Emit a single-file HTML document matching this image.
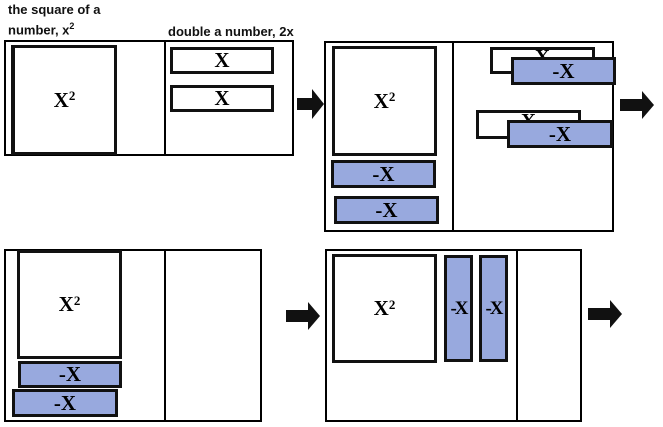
<!DOCTYPE html>
<html><head><style>
body{margin:0;background:#fff;width:663px;height:427px;overflow:hidden;position:relative;font-family:"Liberation Sans",sans-serif}
.b{position:absolute;box-sizing:border-box;border:2px solid #000;background:#fff}
.s{position:absolute;box-sizing:border-box;border:3px solid #111;background:#fff;display:flex;align-items:center;justify-content:center;font:bold 21px "Liberation Serif",serif}
.s sup{font-size:13px;position:relative;top:-4px}
.bl{background:#98a9de}
.v{position:absolute;width:2px;background:#000}
.t{position:absolute;font-weight:bold;font-size:13px;color:#111;white-space:nowrap}
.ar{position:absolute}
</style></head><body>
<div class="t" style="left:8px;top:2px">the square of a</div>
<div class="t" style="left:8px;top:21px">number, x<sup style="font-size:9px">2</sup></div>
<div class="t" style="left:168px;top:24px">double a number, 2x</div>

<!-- panel 1 -->
<div class="b" style="left:4px;top:40px;width:290px;height:116px"></div>
<div class="v" style="left:164px;top:40px;height:116px"></div>
<div class="s" style="left:11px;top:45px;width:106px;height:110px;border-left-width:4px">X<sup>2</sup></div>
<div class="s" style="left:170px;top:47px;width:104px;height:27px">X</div>
<div class="s" style="left:170px;top:85px;width:104px;height:27px">X</div>

<!-- panel 2 -->
<div class="b" style="left:324px;top:41px;width:290px;height:191px"></div>
<div class="v" style="left:452px;top:41px;height:191px"></div>
<div class="s" style="left:332px;top:46px;width:105px;height:110px">X<sup>2</sup></div>
<div class="s bl" style="left:331px;top:160px;width:105px;height:28px">-X</div>
<div class="s bl" style="left:334px;top:196px;width:105px;height:28px">-X</div>
<div class="s" style="left:490px;top:47px;width:105px;height:27px;align-items:flex-start;line-height:14px">X</div>
<div class="s bl" style="left:511px;top:57px;width:105px;height:28px">-X</div>
<div class="s" style="left:476px;top:110px;width:105px;height:29px;align-items:flex-start;line-height:16px">X</div>
<div class="s bl" style="left:507px;top:120px;width:106px;height:28px">-X</div>

<!-- panel 3 -->
<div class="b" style="left:4px;top:249px;width:258px;height:173px"></div>
<div class="v" style="left:164px;top:249px;height:173px"></div>
<div class="s" style="left:17px;top:250px;width:105px;height:109px">X<sup>2</sup></div>
<div class="s bl" style="left:18px;top:361px;width:104px;height:27px">-X</div>
<div class="s bl" style="left:12px;top:389px;width:106px;height:28px">-X</div>

<!-- panel 4 -->
<div class="b" style="left:325px;top:249px;width:257px;height:173px"></div>
<div class="v" style="left:516px;top:249px;height:173px"></div>
<div class="s" style="left:332px;top:254px;width:105px;height:109px">X<sup>2</sup></div>
<div class="s bl" style="left:444px;top:255px;width:29px;height:107px;font-size:19px;letter-spacing:-2px">-X</div>
<div class="s bl" style="left:479px;top:255px;width:29px;height:107px;font-size:19px;letter-spacing:-2px">-X</div>

<!-- arrows -->
<svg class="ar" style="left:297px;top:89px" width="27" height="30"><path d="M0 9H15V0L27 15L15 30V21H0Z" fill="#111"/></svg>
<svg class="ar" style="left:620px;top:91px" width="34" height="28"><path d="M0 8H22V0L34 14L22 28V20H0Z" fill="#111"/></svg>
<svg class="ar" style="left:286px;top:302px" width="34" height="28"><path d="M0 8H22V0L34 14L22 28V20H0Z" fill="#111"/></svg>
<svg class="ar" style="left:588px;top:300px" width="34" height="28"><path d="M0 8H22V0L34 14L22 28V20H0Z" fill="#111"/></svg>
</body></html>
